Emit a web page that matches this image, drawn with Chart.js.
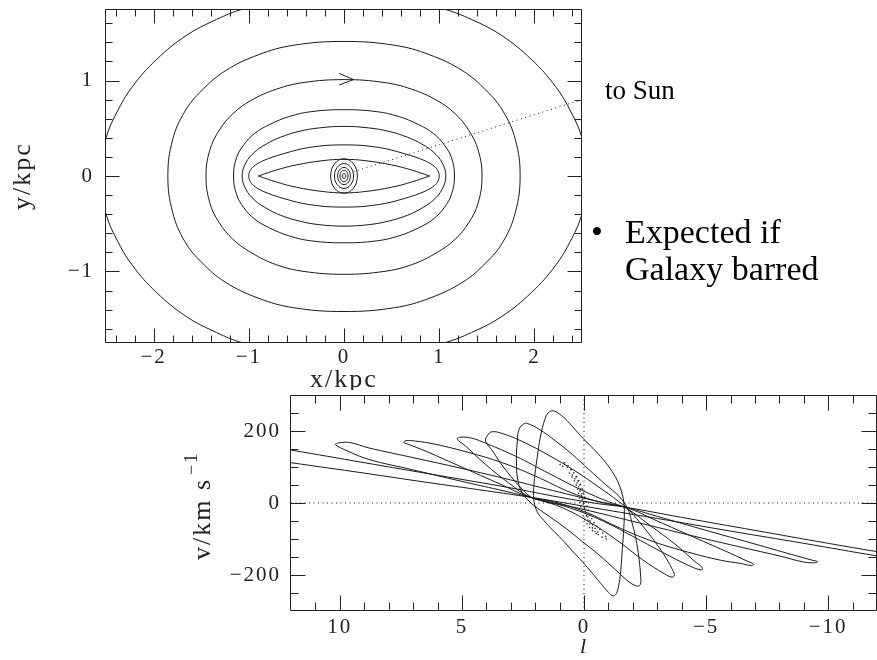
<!DOCTYPE html>
<html lang="en">
<head>
<meta charset="UTF-8">
<title>Bar orbits and l-v diagram</title>
<script src="https://cdn.jsdelivr.net/npm/chart.js"></script>
<style>
  body { margin: 0; background: #fff; }
  canvas { position: absolute; }
  #orbits { left: 0; top: 0; }
  #lv { left: 170px; top: 390px; }
</style>
</head>
<body>
<canvas id="orbits" width="877" height="400"></canvas>
<canvas id="lv" width="707" height="270"></canvas>
<script>
// ---- top panel: closed orbits in the bar frame, [x, y] in kpc ----
const topXTicks = [-2, -1, 0, 1, 2];
const topYTicks = [-1, 0, 1];

const orbit1 = [[-2.56,0],[-2.53,0.2],[-2.5,0.4],[-2.39,0.66],[-2.22,0.94],[-1.97,1.22],[-1.66,1.47],[-1.34,1.64],[-1.06,1.75],[-0.6,1.86],[0,1.92],[0.6,1.86],[1.05,1.75],[1.34,1.64],[1.66,1.47],[1.97,1.22],[2.22,0.94],[2.39,0.66],[2.5,0.4],[2.53,0.2],[2.56,0],[2.53,-0.2],[2.5,-0.4],[2.39,-0.66],[2.22,-0.94],[1.97,-1.22],[1.66,-1.47],[1.34,-1.64],[1.05,-1.75],[0.6,-1.86],[0,-1.92],[-0.6,-1.86],[-1.06,-1.75],[-1.34,-1.64],[-1.66,-1.47],[-1.97,-1.22],[-2.22,-0.94],[-2.39,-0.66],[-2.5,-0.4],[-2.53,-0.2]];
const orbit2 = [[-1.85,0],[-1.8,0.38],[-1.67,0.68],[-1.49,0.9],[-1.25,1.1],[-0.9,1.27],[-0.53,1.37],[0,1.41],[0.53,1.37],[0.9,1.27],[1.25,1.1],[1.49,0.9],[1.67,0.68],[1.8,0.38],[1.85,0],[1.8,-0.38],[1.67,-0.69],[1.49,-0.91],[1.25,-1.11],[0.9,-1.28],[0.53,-1.38],[0,-1.42],[-0.53,-1.38],[-0.9,-1.28],[-1.25,-1.11],[-1.49,-0.91],[-1.67,-0.69],[-1.8,-0.38]];
const orbit3 = [[-1.45,0],[-1.41,0.27],[-1.31,0.48],[-1.17,0.65],[-0.98,0.79],[-0.71,0.91],[-0.42,0.98],[0,1.01],[0.42,0.98],[0.71,0.91],[0.98,0.79],[1.17,0.65],[1.31,0.48],[1.41,0.27],[1.45,0],[1.41,-0.28],[1.31,-0.49],[1.17,-0.66],[0.98,-0.8],[0.71,-0.93],[0.42,-1.0],[0,-1.03],[-0.42,-1.0],[-0.71,-0.93],[-0.98,-0.8],[-1.17,-0.66],[-1.31,-0.49],[-1.41,-0.28]];
const orbit4 = [[-1.16,0],[-1.13,0.19],[-1.05,0.33],[-0.94,0.445],[-0.78,0.54],[-0.57,0.625],[-0.34,0.675],[0,0.695],[0.34,0.675],[0.57,0.625],[0.78,0.54],[0.94,0.445],[1.05,0.33],[1.13,0.19],[1.16,0],[1.13,-0.19],[1.05,-0.335],[0.94,-0.45],[0.78,-0.545],[0.57,-0.63],[0.34,-0.68],[0,-0.7],[-0.34,-0.68],[-0.57,-0.63],[-0.78,-0.545],[-0.94,-0.45],[-1.05,-0.335],[-1.13,-0.19]];
const orbit5 = [[-1.07,0],[-1.03,0.14],[-0.94,0.25],[-0.82,0.333],[-0.67,0.405],[-0.47,0.468],[-0.26,0.504],[0,0.52],[0.26,0.504],[0.47,0.468],[0.67,0.405],[0.82,0.333],[0.94,0.25],[1.03,0.14],[1.07,0],[1.03,-0.14],[0.94,-0.252],[0.82,-0.336],[0.67,-0.41],[0.47,-0.472],[0.26,-0.51],[0,-0.525],[-0.26,-0.51],[-0.47,-0.472],[-0.67,-0.41],[-0.82,-0.336],[-0.94,-0.252],[-1.03,-0.14]];
const orbit6 = [[-1.0,0],[-0.99,0.05],[-0.95,0.1],[-0.85,0.16],[-0.64,0.232],[-0.36,0.3],[0,0.326],[0.36,0.3],[0.64,0.232],[0.85,0.16],[0.95,0.1],[0.99,0.05],[1.0,0],[0.99,-0.05],[0.95,-0.1],[0.85,-0.16],[0.64,-0.234],[0.36,-0.3],[0,-0.326],[-0.36,-0.3],[-0.64,-0.234],[-0.85,-0.16],[-0.95,-0.1],[-0.99,-0.05]];
const eyeUpper = [[-0.9,0],[-0.71,0.063],[-0.5,0.116],[-0.22,0.161],[0,0.175],[0.22,0.161],[0.5,0.116],[0.71,0.063],[0.9,0]];
const eyeLower = [[-0.9,0],[-0.71,-0.063],[-0.5,-0.118],[-0.22,-0.163],[0,-0.177],[0.22,-0.163],[0.5,-0.118],[0.71,-0.063],[0.9,0]];
const core1 = [[0.14,0],[0.1,0.127],[0,0.18],[-0.1,0.127],[-0.14,0],[-0.1,-0.127],[0,-0.18],[0.1,-0.127]];
const core2 = [[0.1,0],[0.07,0.092],[0,0.13],[-0.07,0.092],[-0.1,0],[-0.07,-0.092],[0,-0.13],[0.07,-0.092]];
const core3 = [[0.067,0],[0.047,0.064],[0,0.09],[-0.047,0.064],[-0.067,0],[-0.047,-0.064],[0,-0.09],[0.047,-0.064]];
const core4 = [[0.042,0],[0.03,0.042],[0,0.06],[-0.03,0.042],[-0.042,0],[-0.03,-0.042],[0,-0.06],[0.03,-0.042]];
const core5 = [[0.018,0],[0.013,0.017],[0,0.024],[-0.013,0.017],[-0.018,0],[-0.013,-0.017],[0,-0.024],[0.013,-0.017]];
const orbitArrow = [[-0.05,1.074],[0.1,1.011],[-0.05,0.954]];
const sunLine = [[0.1,0.045],[2.5,0.8]];

// ---- bottom panel: same orbits in (l [deg], v [km/s]) ----
const lTicks = [10, 5, 0, -5, -10];
const vTicks = [-200, 0, 200];

const loopA = [[1.27,256],[1.02,248],[0.68,228],[0.34,202],[-0.07,172],[-0.48,144],[-0.89,112],[-1.23,79],[-1.46,47],[-1.6,14],[-1.65,-19],[-1.63,-70],[-1.57,-126],[-1.5,-191],[-1.41,-233],[-1.3,-254],[-1.19,-258],[-1.0,-248],[-0.68,-223],[-0.34,-195],[0.07,-163],[0.48,-133],[0.89,-102],[1.3,-74],[1.64,-49],[1.91,-25],[2.05,5],[2.06,37],[2.01,79],[1.91,130],[1.78,186],[1.6,233],[1.46,251]];
const loopB = [[2.46,220],[2.32,221],[1.84,205],[1.16,172],[0.48,135],[-0.2,93],[-0.89,51],[-1.43,19],[-1.78,-14],[-1.95,-51],[-2.12,-98],[-2.25,-153],[-2.32,-205],[-2.31,-226],[-2.19,-231],[-1.84,-219],[-1.3,-186],[-0.61,-144],[0.07,-107],[0.75,-70],[1.43,-37],[1.91,-14],[2.25,5],[2.53,28],[2.7,60],[2.77,116],[2.73,172],[2.66,205]];
const loopC = [[4.03,172],[3.95,188],[3.76,198],[3.3,192],[2.5,170],[1.43,132],[0.34,88],[-0.61,44],[-1.43,4],[-1.84,-19],[-2.25,-51],[-2.8,-98],[-3.28,-144],[-3.59,-181],[-3.7,-199],[-3.62,-206],[-3.3,-197],[-2.39,-157],[-1.3,-101],[-0.2,-52],[0.89,-13],[1.84,9],[2.19,17],[2.66,48],[3.3,100],[3.75,145]];
const loopD = [[5.19,178],[5.05,183],[4.6,180],[4.17,170],[2.8,130],[1.43,82],[0.07,35],[-1.02,3],[-1.72,-14],[-2.66,-60],[-3.76,-116],[-4.5,-160],[-4.85,-180],[-4.8,-186],[-4.3,-174],[-3.21,-137],[-1.98,-92],[-0.61,-45],[0.75,-10],[2.19,16],[3.07,55],[4.03,107],[4.85,158]];
const loopE = [[7.38,168],[7.3,173],[6.9,172],[6.08,163],[4.71,140],[3.35,112],[2.0,75],[0.5,28],[-0.8,0],[-1.72,-12],[-3.0,-50],[-4.5,-95],[-6.0,-140],[-6.7,-162],[-6.95,-170],[-6.85,-174],[-6.42,-168],[-5.6,-159],[-4.23,-136],[-2.87,-108],[-1.52,-71],[-0.02,-24],[1.28,4],[2.2,16],[3.48,54],[4.98,99],[6.48,144],[7.15,162]];
const loopF = [[10.18,162],[10.05,167],[9.6,168],[8.81,153],[7.0,126],[5.0,96],[3.0,64],[1.0,30],[-0.6,4],[-1.72,-12],[-3.0,-37],[-5.0,-76],[-7.0,-114],[-8.5,-143],[-9.3,-158],[-9.56,-163],[-9.45,-166],[-9.0,-164],[-8.0,-147],[-6.0,-116],[-4.0,-84],[-2.0,-51],[0,-18],[1.2,0],[2.19,16],[3.5,37],[5.0,60],[7.0,92],[8.81,121],[9.7,145]];
const loopG = [[14.5,150],[13.5,163],[12,147],[9,112],[6,77],[3,42],[1,16],[-0.6,-2],[-1.72,-12],[-4,-40],[-7,-76],[-10,-112],[-12,-135],[-13.5,-150],[-14.5,-158],[-13.5,-162],[-12,-147],[-9,-112],[-6,-78],[-3,-43],[0,-9],[1.2,5],[2.19,16],[4,34],[6.5,58],[9,83],[12,112],[13.5,127]];
const cloud1 = [[0.82,112],[0.55,95],[0.3,70],[0.12,35],[0.02,0],[-0.1,-35],[-0.3,-65],[-0.6,-88],[-0.96,-100],[-0.7,-78],[-0.42,-55],[-0.2,-25],[-0.05,10],[0.1,45],[0.35,78],[0.7,100],[1.0,104]];
const cloud2 = [[0.6,85],[0.35,55],[0.2,20],[0.1,-20],[-0.1,-55],[-0.4,-80],[-0.6,-85],[-0.25,-50],[0,-10],[0.15,30],[0.35,65]];
const zeroV = [[12,0],[-12,0]];
const zeroL = [[0,300],[0,-300]];

const serif = "'Liberation Serif', 'Times New Roman', serif";
const ink = '#1a1a1a';

const fmt = v => (v < 0 ? '\u2212' + Math.abs(v) : String(v));

function line(arr, extra) {
  return Object.assign({
    data: arr.map(([x, y]) => ({ x, y })),
    showLine: true, closed: true, tension: 0.4, clip: 0,
    borderColor: ink, borderWidth: 1, pointRadius: 0, fill: false
  }, extra || {});
}
const open = { closed: false };
const straight = { closed: false, tension: 0 };
const dotted = { borderDash: [1, 3.5] };
const dots = { borderDash: [1.5, 3], borderWidth: 1.3, borderColor: '#333' };

// closed rings: let the line element treat data as a loop so the spline closes smoothly
const loopPlugin = {
  id: 'closedLoops',
  afterDatasetUpdate(chart, args) {
    const ds = chart.data.datasets[args.index];
    const el = args.meta.dataset;
    if (ds.closed && el) { el._loop = true; el._fullLoop = true; }
  }
};

// PGPLOT style box with inward ticks on all four sides
function makeFrame(cfg) {
  return {
    id: 'frame',
    beforeDraw(chart) {
      const ctx = chart.ctx;
      ctx.save();
      ctx.fillStyle = '#fff';
      ctx.fillRect(0, 0, chart.width, chart.height);
      ctx.restore();
      ctx.letterSpacing = '2px';
    },
    afterDraw(chart) {
      const { ctx, chartArea: a, scales: { x, y } } = chart;
      const L = a.left - 0.5, R = a.right - 0.5, T = a.top + 0.5, B = a.bottom - 0.5;
      ctx.save();
      ctx.strokeStyle = '#222';
      ctx.lineWidth = 1;
      ctx.beginPath();
      ctx.rect(L, T, R - L, B - T);
      const marks = (scale, step, majors, fn) => {
        const n0 = Math.ceil(scale.min / step - 1e-6), n1 = Math.floor(scale.max / step + 1e-6);
        for (let k = n0; k <= n1; k++) {
          const v = k * step;
          if (Math.abs(v - scale.min) < 1e-6 || Math.abs(v - scale.max) < 1e-6) continue;
          const major = majors.some(m => Math.abs(m - v) < 1e-6);
          fn(Math.round(scale.getPixelForValue(v)) + 0.5, major ? cfg.major : cfg.minor);
        }
      };
      marks(x, cfg.xStep, cfg.xMajor, (p, len) => {
        ctx.moveTo(p, B); ctx.lineTo(p, B - len);
        ctx.moveTo(p, T); ctx.lineTo(p, T + len);
      });
      marks(y, cfg.yStep, cfg.yMajor, (p, len) => {
        ctx.moveTo(L, p); ctx.lineTo(L + len, p);
        ctx.moveTo(R, p); ctx.lineTo(R - len, p);
      });
      ctx.stroke();
      ctx.restore();
    }
  };
}

function axis(min, max, ticks, size, pad, extra) {
  return Object.assign({
    type: 'linear', min, max,
    grid: { display: false, drawTicks: false },
    border: { display: false },
    afterBuildTicks: s => { s.ticks = ticks.map(v => ({ value: v })); },
    afterFit: s => {
      if (s.isHorizontal()) s.height = size; else s.width = size;
      s.paddingTop = 0; s.paddingBottom = 0; s.paddingLeft = 0; s.paddingRight = 0;
    },
    ticks: { padding: pad, font: { family: serif, size: 21 }, color: '#222', callback: fmt, autoSkip: false, maxRotation: 0 }
  }, extra);
}

const topNotes = {
  id: 'topNotes',
  afterDraw(chart) {
    const ctx = chart.ctx;
    ctx.save();
    ctx.letterSpacing = '0px';
    ctx.fillStyle = '#000';
    ctx.textAlign = 'left';
    ctx.textBaseline = 'alphabetic';
    ctx.font = '27px ' + serif;
    ctx.fillText('to Sun', 605, 99);
    ctx.font = '34px ' + serif;
    ctx.fillText('\u2022', 591, 243);
    ctx.fillText('Expected if', 625, 243);
    ctx.fillText('Galaxy barred', 625, 280);
    ctx.restore();
  }
};

// y title of the lower panel, with a raised -1
const lvNotes = {
  id: 'lvNotes',
  afterDraw(chart) {
    const ctx = chart.ctx;
    ctx.save();
    ctx.fillStyle = '#222';
    ctx.letterSpacing = '2px';
    ctx.textAlign = 'left';
    ctx.textBaseline = 'alphabetic';
    ctx.translate(40, 170);
    ctx.rotate(-Math.PI / 2);
    ctx.font = '26px ' + serif;
    ctx.fillText('v/km s', 0, 0);
    const w = ctx.measureText('v/km s').width;
    ctx.font = '18px ' + serif;
    ctx.fillText('\u22121', w + 3, -13);
    ctx.restore();
  }
};

const titleFont = { family: serif, size: 26 };

new Chart(document.getElementById('orbits'), {
  type: 'scatter',
  data: {
    datasets: [
      line(orbit1), line(orbit2), line(orbit3), line(orbit4), line(orbit5), line(orbit6),
      line(eyeUpper, open), line(eyeLower, open),
      line(core1), line(core2), line(core3), line(core4), line(core5),
      line(orbitArrow, straight),
      line(sunLine, Object.assign({}, straight, dotted))
    ]
  },
  options: {
    responsive: false, animation: false, events: [],
    layout: { padding: { left: 0, top: 9, right: 295, bottom: 0 } },
    plugins: { legend: { display: false }, tooltip: { enabled: false } },
    scales: {
      x: axis(-2.5, 2.5, topXTicks, 57, 2, {
        title: { display: true, text: 'x/kpc', color: '#222', font: titleFont, padding: { top: 0, bottom: 4 } }
      }),
      y: axis(-1.75, 1.75, topYTicks, 106, 12, {
        title: { display: true, text: 'y/kpc', color: '#222', font: titleFont, padding: { top: 8, bottom: 0 } }
      })
    }
  },
  plugins: [loopPlugin, makeFrame({ major: 14, minor: 7, xStep: 0.2, yStep: 0.2, xMajor: topXTicks, yMajor: topYTicks }), topNotes]
});

new Chart(document.getElementById('lv'), {
  type: 'scatter',
  data: {
    datasets: [
      line(zeroV, Object.assign({}, straight, dotted)),
      line(zeroL, Object.assign({}, straight, dotted)),
      line(loopA), line(loopB), line(loopC), line(loopD), line(loopE), line(loopF), line(loopG),
      line(cloud1, dots), line(cloud2, dots)
    ]
  },
  options: {
    responsive: false, animation: false, events: [],
    layout: { padding: { left: 0, top: 5, right: 0, bottom: 0 } },
    plugins: { legend: { display: false }, tooltip: { enabled: false } },
    scales: {
      x: axis(-12, 12, lTicks, 49, 4, {
        reverse: true,
        title: { display: true, text: 'l', color: '#222', font: { family: serif, size: 22, style: 'italic' }, padding: { top: 0, bottom: 0 } }
      }),
      y: axis(-300, 300, vTicks, 121, 10)
    }
  },
  plugins: [loopPlugin, makeFrame({ major: 15, minor: 8, xStep: 1, yStep: 50, xMajor: lTicks, yMajor: vTicks }), lvNotes]
});
</script>
</body>
</html>
